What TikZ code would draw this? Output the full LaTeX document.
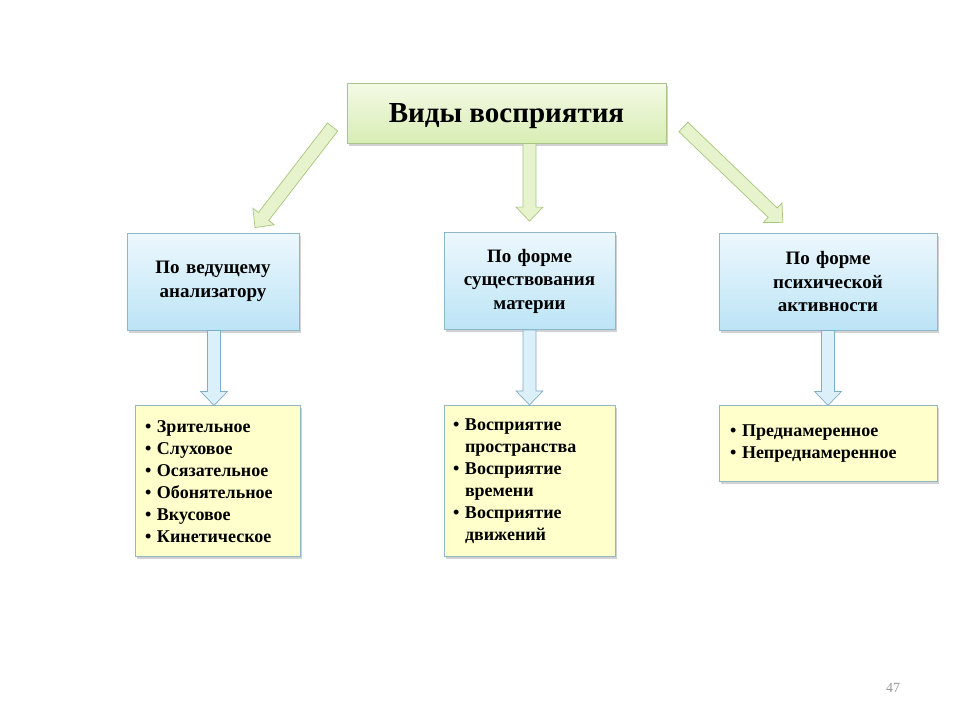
\documentclass[tikz,border=0pt]{standalone}
\usepackage{fontspec}
\setmainfont{Liberation Serif}
\usetikzlibrary{calc}
\usetikzlibrary{shadows}
\usetikzlibrary{positioning}

\definecolor{titeltop}{HTML}{F4FAE6}
\definecolor{titelbot}{HTML}{D8EDB4}
\definecolor{titelrand}{HTML}{A9C48A}
\definecolor{blautop}{HTML}{EDF8FD}
\definecolor{blaubot}{HTML}{BCE4F6}
\definecolor{blaurand}{HTML}{8DB8CC}
\definecolor{gelb}{HTML}{FFFFCC}
\definecolor{gelbrand}{HTML}{93B6C6}
\definecolor{pfeilgruen}{HTML}{E6F3CC}
\definecolor{pfeilgruenrand}{HTML}{A7C67C}
\definecolor{pfeilblau}{HTML}{DCF0FA}
\definecolor{pfeilblaurand}{HTML}{7EADC8}

% Aufzaehlungspunkt mit haengendem Einzug
\newcommand{\punkt}[1]{\hangindent=12pt\hangafter=1\noindent\makebox[12pt][l]{\textbullet}#1\par}

% Blockpfeil von #2 nach #3
\newcommand{\blockpfeil}[3]{%
\draw[#1] let \p1=(#2), \p2=(#3),
  \n1={atan2(\y2-\y1,\x2-\x1)},
  \n2={veclen(\x2-\x1,\y2-\y1)},
  \n3={\n2-14}
  in [shift={(\p1)}, rotate=\n1]
  (0,-6.5) -- (\n3,-6.5) -- (\n3,-13.5) -- (\n2,0) -- (\n3,13.5) -- (\n3,6.5) -- (0,6.5) -- cycle;}

\begin{document}
\begin{tikzpicture}[x=1pt,y=-1pt,
schatten/.style={
  drop shadow={opacity=0.35, shadow xshift=2pt, shadow yshift=-2.5pt}
},
titel/.style={
  rectangle,
  draw=titelrand,
  line width=0.8pt,
  top color=titeltop,
  bottom color=titelbot,
  schatten,
  minimum width=319pt,
  minimum height=60pt,
  inner sep=0pt,
  text depth=0pt,
  font=\fontsize{29}{32}\selectfont\bfseries
},
art/.style={
  rectangle,
  draw=blaurand,
  line width=0.8pt,
  top color=blautop,
  bottom color=blaubot,
  schatten,
  minimum height=97pt,
  inner sep=0pt,
  align=center,
  font=\fontsize{19}{23.5}\selectfont\bfseries
},
liste/.style={
  rectangle,
  draw=gelbrand,
  line width=0.8pt,
  fill=gelb,
  schatten,
  inner sep=0pt,
  align=left,
  font=\fontsize{18}{22}\selectfont\bfseries
},
gruenpfeil/.style={
  draw=pfeilgruenrand,
  fill=pfeilgruen,
  line width=0.7pt,
  line join=miter
},
blaupfeil/.style={
  draw=pfeilblaurand,
  fill=pfeilblau,
  line width=0.7pt,
  line join=miter
}]
\useasboundingbox[fill=white] (0,0) rectangle (960,720);

\node[titel] (titel) at (506.5,113) {Виды восприятия};

\node[art, minimum width=172pt, text width=156pt] (analysator) at (213,281.5) {По ведущему\\анализатору};
\node[art, minimum width=171pt, text width=156pt] (materie) at (529.5,281) {По форме\\существования\\материи};
\node[art, minimum width=218pt, text width=200pt] (aktiv) at (828,281.5) {По форме\\психической\\активности};

\node[liste, minimum width=165pt, text width=145pt, minimum height=151pt] (sinne) [below=75pt of analysator, xshift=4.5pt] {%
\punkt{Зрительное}\punkt{Слуховое}\punkt{Осязательное}\punkt{Обонятельное}\punkt{Вкусовое}\punkt{Кинетическое}};
\node[liste, minimum width=171pt, text width=153pt, minimum height=151pt] (raumzeit) [below=75pt of materie] {%
\punkt{Восприятие пространства}\punkt{Восприятие времени}\punkt{Восприятие движений}};
\node[liste, minimum width=218pt, text width=196pt, minimum height=76pt] (absicht) [below=75pt of aktiv] {%
\punkt{Преднамеренное}\punkt{Непреднамеренное}};

\node[text=gray!80, font=\fontsize{14}{16}\selectfont] (seite) at (893,688) {47};

\blockpfeil{gruenpfeil}{$(titel.west)+(-14,14)$}{$(analysator.north)+(42,-5)$}
\blockpfeil{gruenpfeil}{materie.north |- titel.south}{$(materie.north)+(0,-11)$}
\blockpfeil{gruenpfeil}{$(titel.east)+(17,14)$}{$(aktiv.north)+(-45,-10)$}

\blockpfeil{blaupfeil}{$(analysator.south)+(1,0)$}{$(analysator.south |- sinne.north)+(1,0)$}
\blockpfeil{blaupfeil}{materie.south}{raumzeit.north}
\blockpfeil{blaupfeil}{aktiv.south}{absicht.north}

\end{tikzpicture}
\end{document}
